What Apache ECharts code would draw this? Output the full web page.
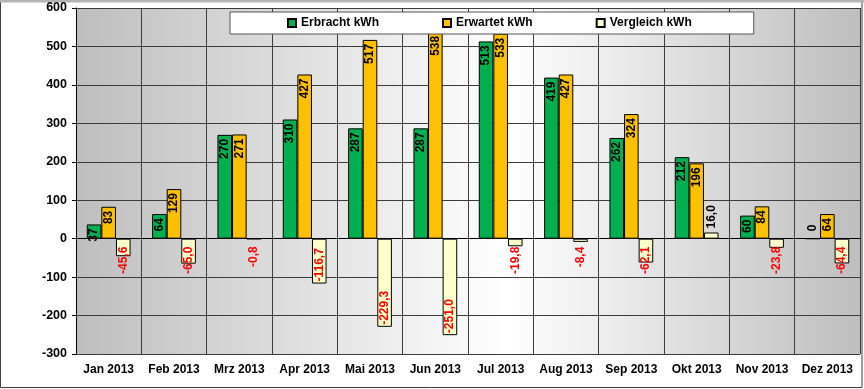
<!DOCTYPE html>
<html>
<head>
<meta charset="utf-8">
<script src="https://cdn.jsdelivr.net/npm/echarts@6/dist/echarts.min.js"></script>
<style>
html,body{margin:0;padding:0;background:#fff;}
#chart{width:864px;height:389px;}
</style>
</head>
<body>
<div id="chart"></div>
<script>
const months = ['Jan 2013','Feb 2013','Mrz 2013','Apr 2013','Mai 2013','Jun 2013','Jul 2013','Aug 2013','Sep 2013','Okt 2013','Nov 2013','Dez 2013'];
const erbracht = [37, 64, 270, 310, 287, 287, 513, 419, 262, 212, 60, 0];
const erwartet = [83, 129, 271, 427, 517, 538, 533, 427, 324, 196, 84, 64];
const vergleich = [-45.6, -65.0, -0.8, -116.7, -229.3, -251.0, -19.8, -8.4, -62.1, 16.0, -23.8, -64.4];
const yTicks = {min: -300, max: 600, interval: 100};

const FONT = 'Arial, "Liberation Sans", sans-serif';

function mainData(arr) {
  return arr.map(v => v === 0
    ? {value: v, label: {position: 'top', align: 'left', distance: 7}}
    : {value: v});
}
function vglData(arr) {
  return arr.map(v => {
    if (v >= 0) return {value: v, label: {position: 'top', align: 'left', distance: 4, color: '#000'}};
    if (v <= -100) return {value: v, label: {position: 'insideBottom', align: 'left', distance: 2, color: '#ff0000'}};
    return {value: v, label: {position: 'insideTop', align: 'right', distance: 8, color: '#ff0000'}};
  });
}

const baseLabel = {
  show: true, rotate: 90, position: 'insideTop', align: 'right', verticalAlign: 'middle',
  distance: 4, fontWeight: 'bold', fontSize: 12, fontFamily: FONT, color: '#000'
};

const chart = echarts.init(document.getElementById('chart'), null, {renderer: 'canvas'});
chart.setOption({
  animation: false,
  backgroundColor: '#fff',
  graphic: [
    {type: 'rect', z: -1, shape: {x: 0.5, y: 1, width: 861.5, height: 386.5}, style: {fill: 'none', stroke: '#404040', lineWidth: 1}},
    {type: 'rect', z: -1, shape: {x: 0, y: 0, width: 864, height: 2.5}, style: {fill: '#b4b4b4'}}
  ],
  legend: {
    left: 230, top: 12,
    backgroundColor: '#fff', borderColor: '#555', borderWidth: 1,
    padding: [5, 62, 5, 57],
    itemWidth: 8, itemHeight: 8, itemGap: 63,
    icon: 'rect',
    textStyle: {fontWeight: 'bold', fontSize: 12, fontFamily: FONT, color: '#000', lineHeight: 12},
    data: ['Erbracht kWh', 'Erwartet kWh', 'Vergleich kWh']
  },
  grid: {
    left: 76, top: 8, width: 784, height: 346,
    show: true, borderWidth: 0,
    backgroundColor: {type: 'linear', x: 0, y: 0, x2: 1, y2: 0,
      colorStops: [{offset: 0, color: '#bebebe'}, {offset: 0.55, color: '#ffffff'}, {offset: 1, color: '#bebebe'}]}
  },
  xAxis: {
    type: 'category', data: months,
    axisLine: {show: true, lineStyle: {color: '#000', width: 1}},
    axisTick: {show: false},
    axisLabel: {fontWeight: 'bold', fontSize: 12, fontFamily: FONT, color: '#000', margin: 10, interval: 0},
    splitLine: {show: true, interval: 0, lineStyle: {color: '#3c3c3c', width: 1}}
  },
  yAxis: {
    type: 'value', min: yTicks.min, max: yTicks.max, interval: yTicks.interval,
    axisLine: {show: true, lineStyle: {color: '#000', width: 1}},
    axisTick: {show: true, length: 4, lineStyle: {color: '#000'}},
    axisLabel: {fontWeight: 'bold', fontSize: 12.5, fontFamily: FONT, color: '#000', margin: 9},
    splitLine: {show: true, lineStyle: {color: '#3c3c3c', width: 1}}
  },
  series: [
    {name: 'Erbracht kWh', type: 'bar', barGap: '0%', barCategoryGap: '33%',
     itemStyle: {color: '#00b050', borderColor: '#000', borderWidth: 1},
     label: Object.assign({}, baseLabel), data: mainData(erbracht)},
    {name: 'Erwartet kWh', type: 'bar', barGap: '0%', barCategoryGap: '33%',
     itemStyle: {color: '#ffc000', borderColor: '#000', borderWidth: 1},
     label: Object.assign({}, baseLabel), data: mainData(erwartet)},
    {name: 'Vergleich kWh', type: 'bar', barGap: '0%', barCategoryGap: '33%',
     itemStyle: {color: '#ffffcc', borderColor: '#000', borderWidth: 1},
     label: Object.assign({}, baseLabel, {formatter: p => p.value.toFixed(1).replace('.', ',')}),
     data: vglData(vergleich)}
  ]
});
</script>
</body>
</html>
